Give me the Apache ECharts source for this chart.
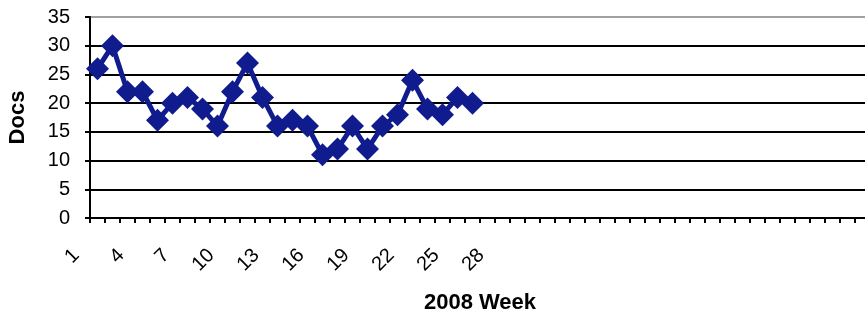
<!DOCTYPE html>
<html>
<head>
<meta charset="utf-8">
<script src="https://cdn.jsdelivr.net/npm/echarts@6/dist/echarts.min.js"></script>
<style>
  html, body { margin: 0; padding: 0; background: #fff; }
  #chart { width: 865px; height: 318px; }
</style>
</head>
<body>
<div id="chart"></div>
<script>
// weeks of 2008 on the axis; only 1..28 carry a label, the rest are blank
const weekLabels = Array.from({ length: 52 }, (_, i) => (i < 28 ? String(i + 1) : ''));

// docs per week (weeks 1-26)
const docs = [26, 30, 22, 22, 17, 20, 21, 19, 16, 22, 27, 21, 16,
              17, 16, 11, 12, 16, 12, 16, 18, 24, 19, 18, 21, 20];

const yTicks = { min: 0, max: 35, interval: 5 };

const font = 'Arial, "Liberation Sans", sans-serif';
const lineColor = '#101c8e';

const chart = echarts.init(document.getElementById('chart'));

chart.setOption({
  backgroundColor: '#ffffff',
  animation: false,
  grid: { left: 90, right: -5, top: 17, bottom: 100, containLabel: false, outerBoundsMode: 'none' },
  xAxis: {
    type: 'category',
    data: weekLabels,
    boundaryGap: true,
    name: '2008 Week',
    nameLocation: 'middle',
    nameGap: 74,
    nameTextStyle: { fontFamily: font, fontSize: 22, fontWeight: 'bold', color: '#000' },
    axisLine: { lineStyle: { color: '#000', width: 2 } },
    axisTick: { show: true, interval: 0, length: 5, lineStyle: { color: '#000', width: 2 } },
    axisLabel: {
      interval: 2,
      rotate: 45,
      margin: 13,
      padding: [0, 30, 0, 0],
      fontFamily: font,
      fontSize: 20,
      color: '#000'
    },
    splitLine: { show: false }
  },
  yAxis: {
    type: 'value',
    min: yTicks.min,
    max: yTicks.max,
    interval: yTicks.interval,
    name: 'Docs',
    nameLocation: 'middle',
    nameGap: 61,
    nameRotate: 90,
    nameTextStyle: { fontFamily: font, fontSize: 22, fontWeight: 'bold', color: '#000' },
    axisLine: { show: true, lineStyle: { color: '#000', width: 2 } },
    axisTick: { show: true, length: 5, lineStyle: { color: '#000', width: 2 } },
    axisLabel: { margin: 20, fontFamily: font, fontSize: 20, color: '#000' },
    splitLine: {
      lineStyle: {
        color: ['#000', '#000', '#000', '#000', '#000', '#000', '#000', '#a0a0a0'],
        width: 2
      }
    }
  },
  series: [{
    type: 'line',
    data: docs,
    symbol: 'diamond',
    symbolSize: [23, 23],
    showAllSymbol: true,
    lineStyle: { color: lineColor, width: 5 },
    itemStyle: { color: lineColor },
    emphasis: { disabled: true }
  }]
});
</script>
</body>
</html>
